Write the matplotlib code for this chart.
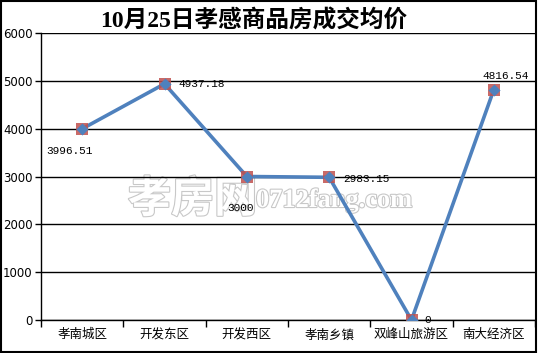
import matplotlib
matplotlib.use("Agg")
import matplotlib.pyplot as plt
import matplotlib.patheffects as pe
from matplotlib.patches import Rectangle

categories = ["孝南城区", "开发东区", "开发西区", "孝南乡镇", "双峰山旅游区", "南大经济区"]
values = [3996.51, 4937.18, 3000, 2983.15, 0, 4816.54]
value_labels = ["3996.51", "4937.18", "3000", "2983.15", "0", "4816.54"]
yticks = [0, 1000, 2000, 3000, 4000, 5000, 6000]
title = "10月25日孝感商品房成交均价"

cjk = ["Noto Sans CJK SC", "DejaVu Sans"]
plt.rcParams['font.family'] = cjk

fig = plt.figure(figsize=(5.38, 3.53), dpi=100)
fig.patch.set_facecolor("white")
ax = fig.add_axes([41/538, 1-320/353, (535-41)/538, (320-33)/353])
ax.set_facecolor("none")

x = list(range(len(categories)))
ax.plot(x, values, color="#4f81bd", lw=2.6, zorder=3)
ax.scatter(x, values, marker="s", s=70, color="#c0504d", alpha=0.85, zorder=4, linewidths=0)
ax.scatter(x, values, marker="D", s=38, color="#4f81bd", zorder=5, linewidths=0)

offsets = [(-26, -16), (10, 0), (-14, -23), (10, -1), (9, 0), (-8, 10)]
for xi, v, lab, off in zip(x, values, value_labels, offsets):
    ax.annotate(lab, (xi, v), xytext=off, textcoords="offset points",
                fontsize=8, family=["Liberation Mono", "DejaVu Sans Mono"],
                va="center", ha="left", zorder=6)

ax.set_xlim(-0.5, 5.5)
ax.set_ylim(0, 6000)
ax.set_yticks(yticks)
ax.set_yticklabels([str(t) for t in yticks], fontsize=8.5, family=["DejaVu Sans"])
ax.set_xticks([i + 0.5 for i in range(-1, 6)], minor=False)
ax.set_xticklabels([])
ax.set_xticks(x, minor=True)
ax.set_xticklabels(categories, minor=True, fontsize=9)
ax.tick_params(axis="x", which="major", direction="out", length=5, width=1, color="black")
ax.tick_params(axis="x", which="minor", length=0, pad=6)
ax.tick_params(axis="y", direction="out", length=4, width=1, pad=2)
ax.grid(axis="y", color="black", lw=1)
ax.set_axisbelow(True)
for s in ["top", "right"]:
    ax.spines[s].set_visible(False)
ax.spines["left"].set_linewidth(1)
ax.spines["bottom"].set_linewidth(1)

# watermark (behind the axes content)
wm = [pe.Stroke(linewidth=1.6, foreground="#c8c8c8"), pe.Normal()]
fig.text(128/538, 1-212/353, "孝房网", fontsize=31, color="white",
         family=cjk, fontweight="bold", path_effects=wm, zorder=-1)
fig.text(256/538, 1-207/353, "0712fang.com", fontsize=19, color="white",
         family=["Liberation Serif", "DejaVu Serif"], fontweight="bold", path_effects=wm, zorder=-1)

fig.text(254/538, 1-21/353, title, fontsize=17, fontweight="bold", ha="center", va="center",
         family=["Liberation Serif", "Noto Sans CJK SC"])

fig.patches.append(Rectangle((0.5/538, 1.5/353), 1-2.5/538, 1-2.5/353, transform=fig.transFigure,
                             fill=False, edgecolor="black", lw=1.5))

fig.savefig("out.png", dpi=100)
